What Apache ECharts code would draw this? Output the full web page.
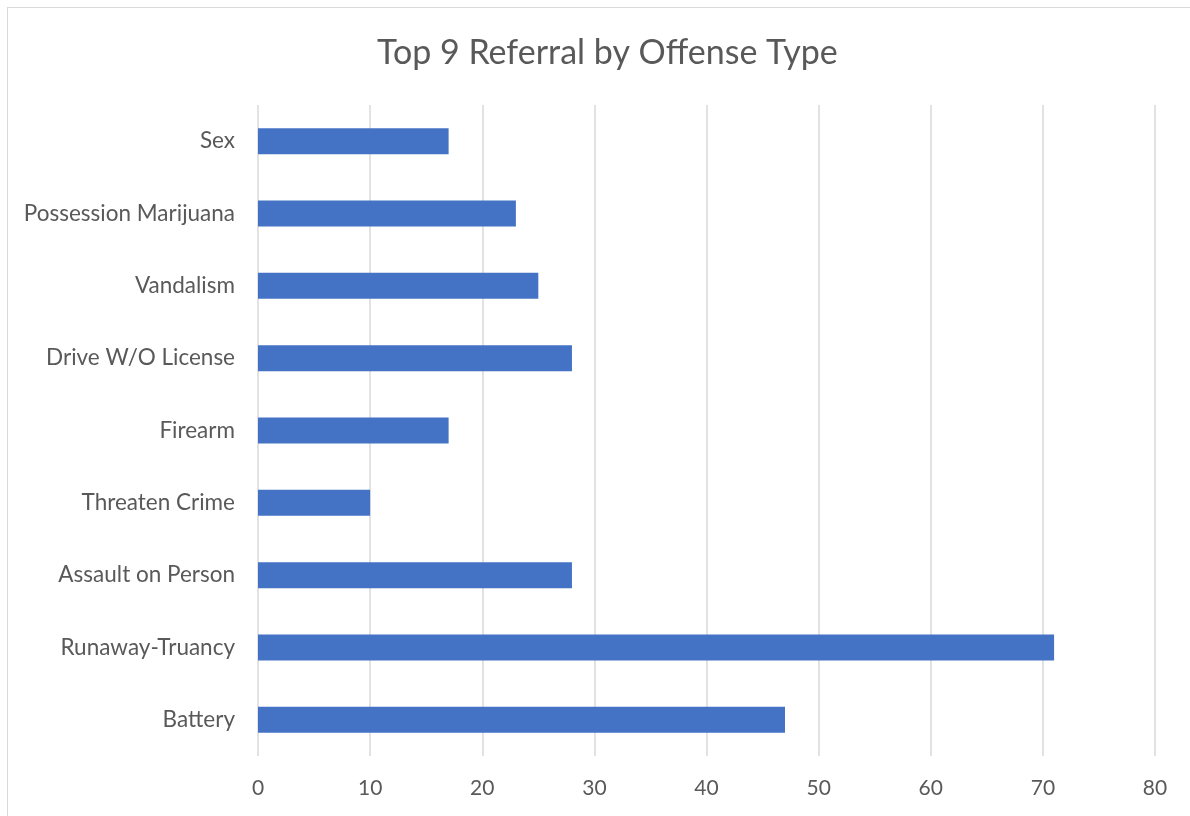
<!DOCTYPE html>
<html><head><meta charset="utf-8">
<script src="https://cdn.jsdelivr.net/npm/echarts@6/dist/echarts.min.js"></script>
<style>
html,body{margin:0;padding:0;background:#fff;}
#frame{position:absolute;left:7px;top:7px;width:1190px;height:820px;border:1px solid #d9d9d9;box-sizing:border-box;}
#c{position:absolute;left:0;top:0;width:1190px;height:816px;}
</style></head>
<body>
<div id="frame"></div>
<div id="c"></div>
<script>
const titleText = 'Top 9 Referral by Offense Type';
const categories = ['Battery','Runaway-Truancy','Assault on Person','Threaten Crime','Firearm','Drive W/O License','Vandalism','Possession Marijuana','Sex'];
const values = [47,71,28,10,17,28,25,23,17];
const xTicks = {min:0,max:80,interval:10};
const font = 'Lato, "Open Sans", sans-serif';
const chart = echarts.init(document.getElementById('c'));
chart.setOption({
  animation:false,
  title:{text:titleText,left:372,top:31,textStyle:{fontFamily:font,fontSize:34,fontWeight:'normal',color:'#595959'}},
  grid:{left:258,right:35,top:105,bottom:60,containLabel:false},
  xAxis:{type:'value',min:xTicks.min,max:xTicks.max,interval:xTicks.interval,
    axisLine:{show:false},axisTick:{show:false},
    splitLine:{show:true,lineStyle:{color:'#d9d9d9',width:1.5}},
    axisLabel:{margin:22,fontFamily:font,fontSize:21,color:'#595959'}},
  yAxis:{type:'category',data:categories,
    axisLine:{show:false},axisTick:{show:false},
    axisLabel:{margin:23,fontFamily:font,fontSize:22.5,color:'#595959'}},
  series:[{type:'bar',data:values,barWidth:26,itemStyle:{color:'#4472C4'}}]
});
</script>
</body></html>
